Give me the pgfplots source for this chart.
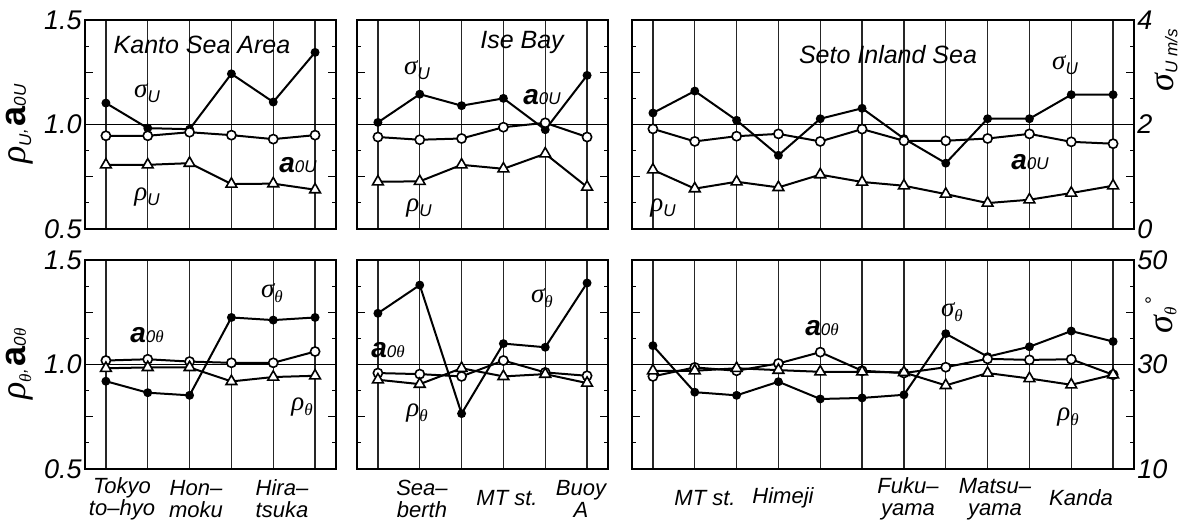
\documentclass[border=0pt]{standalone}
\usepackage{fontspec}
\setmainfont{Liberation Sans}
\newfontfamily\grk{Liberation Serif}
\usepackage{pgfplots}
\pgfplotsset{compat=1.18}
\usepackage{pgfplotstable}

\newcommand{\sub}[1]{{\fontsize{8.5}{8.5}\selectfont\itshape #1}}
\newcommand{\gs}[2]{{\fontsize{13.5}{13.5}\selectfont\grk\itshape #1}\raisebox{-0.5ex}{\sub{#2}}}
\newcommand{\asym}[1]{{\fontsize{14}{14}\selectfont\bfseries\itshape a}\sub{#1}}
\newcommand{\tht}{{\grk\itshape θ}}

\pgfplotstableread{
x sig a rho
1 2.41 0.946 0.807
2 1.93 0.946 0.807
3 1.91 0.963 0.815
4 2.97 0.949 0.715
5 2.43 0.930 0.717
6 3.38 0.949 0.688
}\kantoU
\pgfplotstableread{
x sig a rho
1 2.04 0.940 0.726
2 2.58 0.927 0.728
3 2.36 0.933 0.807
4 2.50 0.987 0.788
5 1.90 1.008 0.860
6 2.94 0.940 0.701
}\iseU
\pgfplotstableread{
x sig a rho
1 2.22 0.979 0.783
2 2.64 0.919 0.693
3 2.08 0.944 0.726
4 1.41 0.955 0.699
5 2.11 0.919 0.760
6 2.31 0.978 0.725
7 1.73 0.922 0.707
8 1.26 0.922 0.667
9 2.11 0.933 0.624
10 2.11 0.955 0.640
11 2.57 0.917 0.672
12 2.57 0.908 0.707
}\setoU
\pgfplotstableread{
x sig a rho
1 26.8 1.019 0.982
2 24.6 1.025 0.986
3 24.1 1.014 0.986
4 39.0 1.008 0.919
5 38.5 1.008 0.940
6 39.0 1.062 0.946
}\kantoT
\pgfplotstableread{
x sig a rho
1 39.8 0.959 0.927
2 45.2 0.954 0.906
3 20.6 0.943 0.982
4 34.0 1.019 0.943
5 33.3 0.962 0.954
6 45.6 0.946 0.911
}\iseT
\pgfplotstableread{
x sig a rho
1 33.6 0.943 0.970
2 24.7 0.986 0.970
3 24.1 0.970 0.982
4 26.7 1.005 0.973
5 23.4 1.059 0.965
6 23.6 0.970 0.965
7 24.2 0.959 0.962
8 35.9 0.987 0.900
9 31.5 1.027 0.959
10 33.4 1.022 0.933
11 36.4 1.025 0.903
12 34.4 0.951 0.951
}\setoT

\pgfplotsset{
  panel/.style={
    scale only axis, height=104.5pt,
    xmin=0.5, ymin=0.5, ymax=1.5,
    axis line style={line width=1pt},
    ytick={0.5,0.75,1,1.25,1.5},
    minor ytick={0.625,0.875,1.125,1.375},
    tick align=inside, major tick length=4pt, minor tick length=2.2pt,
    every tick/.style={black, line width=0.6pt},
    xmajorgrids, xticklabels={},
    x tick style={draw=none},
    major x grid style={black!85, line width=0.6pt},
    extra y ticks={1}, extra y tick labels={},
    extra y tick style={ymajorgrids=true, major grid style={black, line width=0.7pt}},
    yticklabel style={font=\fontsize{13.5}{13.5}\selectfont\itshape, inner sep=1.5pt},
    yticklabels={},
  },
  six/.style={panel, width=125.5pt, xmax=6.5, xtick={1,...,6}},
  twelve/.style={panel, width=251pt, xmax=12.5, xtick={1,...,12}},
  sigline/.style={black, line width=1pt, mark=*, mark size=1.7pt},
  aline/.style={black, line width=1pt, mark=*, mark size=2.3pt, mark options={fill=white, line width=0.8pt}},
  rline/.style={black, line width=1pt, mark=triangle*, mark size=3.1pt, mark options={fill=white, line width=0.8pt}},
}

\begin{document}
\begin{tikzpicture}
\path[use as bounding box] (0pt,0pt) rectangle (591pt,261.5pt);

% ---------- top row ----------
\begin{axis}[six, at={(42.5pt,147pt)}, anchor=south west, yticklabels={0.5,,1.0,,1.5}]
\addplot[sigline] table[x=x, y expr=\thisrow{sig}/4+0.5]{\kantoU};
\addplot[aline] table[x=x, y=a]{\kantoU};
\addplot[rline] table[x=x, y=rho]{\kantoU};
\end{axis}
\begin{axis}[six, at={(178.5pt,147pt)}, anchor=south west]
\addplot[sigline] table[x=x, y expr=\thisrow{sig}/4+0.5]{\iseU};
\addplot[aline] table[x=x, y=a]{\iseU};
\addplot[rline] table[x=x, y=rho]{\iseU};
\end{axis}
\begin{axis}[twelve, at={(316pt,147pt)}, anchor=south west, yticklabel pos=right, yticklabels={0,,2,,4}]
\addplot[sigline] table[x=x, y expr=\thisrow{sig}/4+0.5]{\setoU};
\addplot[aline] table[x=x, y=a]{\setoU};
\addplot[rline] table[x=x, y=rho]{\setoU};
\end{axis}

% ---------- bottom row ----------
\begin{axis}[six, at={(42.5pt,27pt)}, anchor=south west, yticklabels={0.5,,1.0,,1.5}]
\addplot[sigline] table[x=x, y expr=(\thisrow{sig}-10)/40+0.5]{\kantoT};
\addplot[aline] table[x=x, y=a]{\kantoT};
\addplot[rline] table[x=x, y=rho]{\kantoT};
\end{axis}
\begin{axis}[six, at={(178.5pt,27pt)}, anchor=south west]
\addplot[sigline] table[x=x, y expr=(\thisrow{sig}-10)/40+0.5]{\iseT};
\addplot[aline] table[x=x, y=a]{\iseT};
\addplot[rline] table[x=x, y=rho]{\iseT};
\end{axis}
\begin{axis}[twelve, at={(316pt,27pt)}, anchor=south west, yticklabel pos=right, yticklabels={10,,30,,50}]
\addplot[sigline] table[x=x, y expr=(\thisrow{sig}-10)/40+0.5]{\setoT};
\addplot[aline] table[x=x, y=a]{\setoT};
\addplot[rline] table[x=x, y=rho]{\setoT};
\end{axis}

% ---------- titles ----------
\begin{scope}[every node/.style={font=\fontsize{12.5}{13}\selectfont\itshape}]
\node at (101pt,239pt) {Kanto Sea Area};
\node at (261pt,240pt) {Ise Bay};
\node at (444pt,234pt) {Seto Inland Sea};
\end{scope}

% ---------- annotations ----------
\node at (73.5pt,215pt) {\gs{σ}{U}};
\node at (149pt,179pt) {\asym{0U}};
\node at (73.5pt,163pt) {\gs{ρ}{U}};
\node at (208.5pt,226.5pt) {\gs{σ}{U}};
\node at (271pt,213pt) {\asym{0U}};
\node at (209.5pt,157.5pt) {\gs{ρ}{U}};
\node at (532.5pt,229pt) {\gs{σ}{U}};
\node at (515pt,180.5pt) {\asym{0U}};
\node at (331.5pt,157.5pt) {\gs{ρ}{U}};

\node at (136pt,115pt) {\gs{σ}{\tht}};
\node at (73.5pt,94pt) {\asym{0\tht}};
\node at (151pt,58pt) {\gs{ρ}{\tht}};
\node at (194pt,86.5pt) {\asym{0\tht}};
\node at (271pt,112.5pt) {\gs{σ}{\tht}};
\node at (208.5pt,55pt) {\gs{ρ}{\tht}};
\node at (411pt,97.5pt) {\asym{0\tht}};
\node at (476pt,105.5pt) {\gs{σ}{\tht}};
\node at (534pt,53pt) {\gs{ρ}{\tht}};

% ---------- axis labels ----------
\node[rotate=90] at (10pt,199.5pt) {{\fontsize{18}{18}\selectfont\grk\itshape ρ}\raisebox{-0.5ex}{\sub{U}}\sub{,\,}{\fontsize{18}{18}\selectfont\bfseries a}\sub{0U}};
\node[rotate=90] at (10pt,79.5pt) {{\fontsize{18}{18}\selectfont\grk\itshape ρ}\raisebox{-0.5ex}{\sub{\tht}}\sub{,\,}{\fontsize{18}{18}\selectfont\bfseries a}\sub{0\tht}};
\node[rotate=90] at (583pt,231.5pt) {{\fontsize{18}{18}\selectfont\grk\itshape σ}\raisebox{-0.4ex}{\sub{U m/s}}};
\node[rotate=90] at (580.5pt,104pt) {{\fontsize{18}{18}\selectfont\grk\itshape σ}\raisebox{-0.4ex}{\sub{\tht}}\,\raisebox{1.2ex}{\fontsize{10}{10}\selectfont °}};

% ---------- station labels ----------
\begin{scope}[every node/.style={font=\fontsize{11}{11}\selectfont\itshape, align=center, inner sep=0pt}]
\node at (61pt,12pt) {Tokyo\\to–hyo};
\node at (98pt,12pt) {Hon–\\moku};
\node at (141pt,12pt) {Hira–\\tsuka};
\node at (211pt,12pt) {Sea–\\berth};
\node at (253.5pt,12.5pt) {MT st.};
\node at (290.5pt,12pt) {Buoy\\A};
\node at (352.5pt,12.5pt) {MT st.};
\node at (391.5pt,12.5pt) {Himeji};
\node at (454pt,12pt) {Fuku–\\yama};
\node at (497.5pt,12pt) {Matsu–\\yama};
\node at (540.5pt,12.5pt) {Kanda};
\end{scope}
\end{tikzpicture}
\end{document}
